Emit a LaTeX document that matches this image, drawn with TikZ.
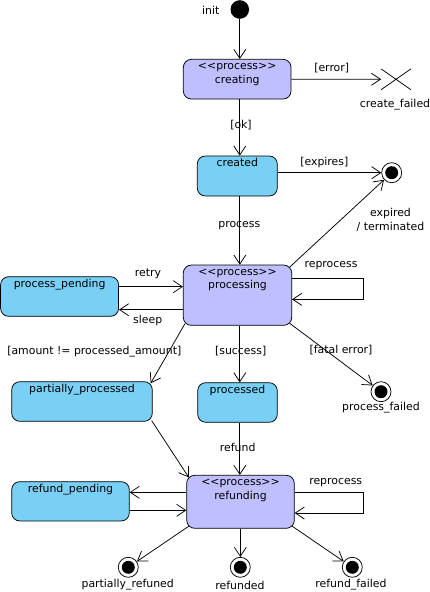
\documentclass[tikz,border=0pt]{standalone}
\usepackage{fontspec}
\setmainfont{DejaVu Sans}
\usepackage{tikz}
\usepackage{xcolor}
\usetikzlibrary{arrows.meta,shapes.misc}
\definecolor{lavender}{RGB}{191,191,255}
\definecolor{skyblue}{RGB}{122,207,245}

\begin{document}
\begin{tikzpicture}[x=1pt,y=-1pt,line width=0.75pt,
  font=\fontsize{10.9}{13.4}\selectfont,
  tr/.style={-{Straight Barb[length=9pt,width=12pt,line width=0.75pt]}},
  procbox/.style={rectangle,draw=black,fill=lavender,rounded corners=8pt,inner sep=0pt},
  plainbox/.style={rectangle,draw=black,fill=skyblue,rounded corners=8pt,inner sep=0pt},
  title/.style={anchor=north,align=center,inner sep=1.5pt,outer sep=0pt},
  lab/.style={inner sep=1pt},
  finalstate/.style={circle,draw=black,fill=white,minimum size=20pt,inner sep=0pt,
    path picture={\fill[black] (path picture bounding box.center) circle (6.5pt);}}]
\useasboundingbox (0,0) rectangle (430,592);
% states
\node (init) at (239.8,9.5) [circle,fill=black,minimum size=18.6pt,inner sep=0pt] {};
\node (creating) at (237.2,79.2) [procbox,minimum width=107.7pt,minimum height=39.7pt,
  label={[title]north:\strut<\kern0pt<process>\kern0pt>\\\strut creating}] {};
\node (cfailed) at (396,79.3) [cross out,draw=black,minimum width=29pt,minimum height=20pt,inner sep=0pt] {};
\node (created) at (237.3,176) [plainbox,minimum width=80pt,minimum height=40pt,
  label={[title]north:\strut created}] {};
\node (expired) at (391.7,172.7) [finalstate] {};
\node (processing) at (237.5,295.2) [procbox,minimum width=108.4pt,minimum height=60.3pt,
  label={[title]north:\strut<\kern0pt<process>\kern0pt>\\\strut processing}] {};
\node (pending) at (59.6,296.5) [plainbox,minimum width=118pt,minimum height=39.6pt,
  label={[title]north:\strut process\_pending}] {};
\node (partial) at (82,401.5) [plainbox,minimum width=140.6pt,minimum height=39.6pt,
  label={[title]north:\strut partially\_processed}] {};
\node (processed) at (237.5,402.5) [plainbox,minimum width=79.6pt,minimum height=39.6pt,
  label={[title]north:\strut processed}] {};
\node (pfailed) at (381,391.7) [finalstate] {};
\node (refunding) at (240.5,501.8) [procbox,minimum width=107.6pt,minimum height=53pt,
  label={[title]north:\strut<\kern0pt<process>\kern0pt>\\\strut refunding}] {};
\node (rpending) at (70.5,501.3) [plainbox,minimum width=117.6pt,minimum height=39.3pt,
  label={[title]north:\strut refund\_pending}] {};
\node (fpartial) at (128.3,567.3) [finalstate] {};
\node (frefunded) at (240.3,567.3) [finalstate] {};
\node (ffailed) at (352.3,567.3) [finalstate] {};
% texts
\node (linit) at (210.7,10) [lab] {init};
\node (lcfailed) at (395,104.3) [lab] {create\_failed};
\node (lexpired) at (390.5,219.7) [lab,align=center] {expired\\/ terminated};
\node (lpfailed) at (381,407.7) [lab] {process\_failed};
\node (lfpartial) at (127.7,585) [lab] {partially\_refuned};
\node (lfrefunded) at (240,585) [lab] {refunded};
\node (lffailed) at (351,585) [lab] {refund\_failed};
\node (lerror) at (331.7,68.3) [lab] {[error]};
\node (lok) at (241,125.3) [lab] {[ok]};
\node (lexpires) at (324.3,162.3) [lab] {[expires]};
\node (lprocess) at (239.3,225.7) [lab] {process};
\node (lretry) at (148,274.3) [lab] {retry};
\node (lsleep) at (147.7,320.3) [lab] {sleep};
\node (lreproc) at (331,266) [lab] {reprocess};
\node (lamount) at (94.3,351.7) [lab] {[amount != processed\_amount]};
\node (lsuccess) at (240.7,351) [lab] {[success]};
\node (lfatal) at (341,350) [lab] {[fatal error]};
\node (lrefund) at (237.7,447.7) [lab] {refund};
\node (lreproc2) at (335.7,482.3) [lab] {reprocess};
% transitions
\draw[tr] (init) -- (creating.north -| init);
\draw[tr] (creating) -- (cfailed);
\draw[tr] (creating.south -| init) -- (created.north -| init);
\draw[tr] (created.east |- expired) -- (expired);
\draw[tr] (created.south -| init) -- (processing.north -| init);
\draw[tr] ([shift={(-2.5,2.5)}]processing.north east) -- (expired);
\draw[tr] (processing.east |- 0,278.3) -| (363.3,299.3) -- (processing.east |- 0,299.3);
\draw[tr] (pending.east |- 0,286.7) -- (processing.west |- 0,286.7);
\draw[tr] (processing.west |- 0,309.7) -- (pending.east |- 0,309.7);
\draw[tr] ([shift={(2,-2)}]processing.south west) -- ([shift={(-2,2)}]partial.north east);
\draw[tr] (processing.south -| init) -- (processed.north -| init);
\draw[tr] ([shift={(-2.5,-2.5)}]processing.south east) -- (pfailed);
\draw[tr] ([shift={(-1,-1)}]partial.south east) -- ([shift={(2.5,2.5)}]refunding.north west);
\draw[tr] (processed.south -| init) -- (refunding.north -| init);
\draw[tr] (refunding.west |- 0,492.3) -- (rpending.east |- 0,492.3);
\draw[tr] (rpending.east |- 0,510.3) -- (refunding.west |- 0,510.3);
\draw[tr] (refunding.east |- 0,492.3) -| (363.3,513) -- (refunding.east |- 0,513);
\draw[tr] ([shift={(2.5,-2.5)}]refunding.south west) -- (fpartial);
\draw[tr] (refunding.south -| frefunded) -- (frefunded);
\draw[tr] ([shift={(-2.5,-2.5)}]refunding.south east) -- (ffailed);
\end{tikzpicture}
\end{document}
